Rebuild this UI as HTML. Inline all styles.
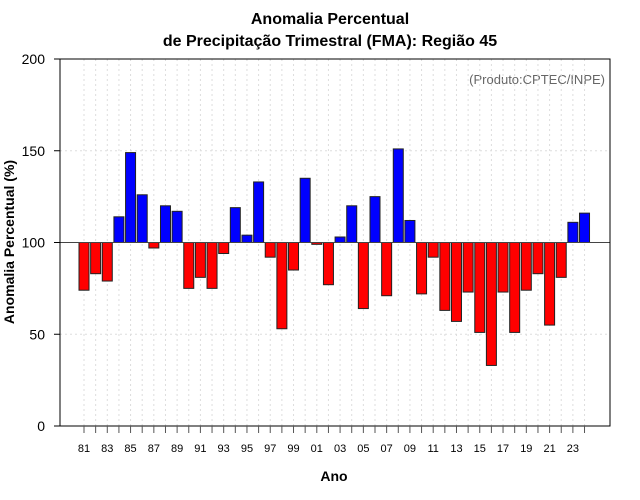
<!DOCTYPE html>
<html><head><meta charset="utf-8"><style>
body{margin:0;background:#fff;}
svg{display:block;font-family:"Liberation Sans",Arial,sans-serif;}
</style></head><body>
<svg id="chart" width="640" height="500" viewBox="0 0 640 500">
<rect width="640" height="500" fill="#fff"/>
<text x="330" y="24" text-anchor="middle" font-size="16" font-weight="bold">Anomalia Percentual</text>
<text x="330" y="46" text-anchor="middle" font-size="16" font-weight="bold">de Precipitação Trimestral (FMA): Região 45</text>
<text x="605" y="84" text-anchor="end" font-size="13" fill="#666">(Produto:CPTEC/INPE)</text>
<text x="334" y="481" text-anchor="middle" font-size="14" font-weight="bold">Ano</text>
<text transform="translate(14,242) rotate(-90)" text-anchor="middle" font-size="14" font-weight="bold">Anomalia Percentual (%)</text>
<g id="grid"></g><g id="bars"></g><g id="axes"></g>
</svg>
<script>
const years=[1981,1982,1983,1984,1985,1986,1987,1988,1989,1990,1991,1992,1993,1994,1995,1996,1997,1998,1999,2000,2001,2002,2003,2004,2005,2006,2007,2008,2009,2010,2011,2012,2013,2014,2015,2016,2017,2018,2019,2020,2021,2022,2023,2024];
const values=[74,83,79,114,149,126,97,120,117,75,81,75,94,119,104,133,92,53,85,135,99,77,103,120,64,125,71,151,112,72,92,63,57,73,51,33,73,51,74,83,55,81,111,116];
const yTicks=[0,50,100,150,200];
const NS='http://www.w3.org/2000/svg';
const L=60,R=610,T=59,B=426;
const x=yr=>84+(yr-1981)*11.64;
const y=v=>B-(v/200)*(B-T);
function mk(tag,attrs,parent){const e=document.createElementNS(NS,tag);for(const k in attrs)e.setAttribute(k,attrs[k]);parent.appendChild(e);return e;}
const grid=document.getElementById('grid'),bars=document.getElementById('bars'),axes=document.getElementById('axes');
years.forEach(yr=>{const g=mk('line',{x1:x(yr),x2:x(yr),y1:T,y2:B,stroke:'#ddd','stroke-dasharray':'2,3'},grid);

});
yTicks.forEach(v=>{if(v===0||v===200||v===100)return;const g=mk('line',{x1:L,x2:R,y1:y(v),y2:y(v),stroke:'#ddd','stroke-dasharray':'2,3'},grid);

});
values.forEach((v,i)=>{const yr=years[i];const top=Math.min(y(v),y(100)),h=Math.abs(y(v)-y(100));
const r=mk('rect',{x:x(yr)-5,y:top,width:10,height:Math.max(h,1),fill:v>=100?'#0000ff':'#ff0000',stroke:'#222','stroke-width':1},bars);

});
const base=mk('line',{x1:L,x2:R,y1:y(100),y2:y(100),stroke:'#444','stroke-width':1},axes);


const frame=mk('rect',{x:L,y:T,width:R-L,height:B-T,fill:'none',stroke:'#000','stroke-width':1},axes);


yTicks.forEach(v=>{const t=mk('line',{x1:L-6,x2:L,y1:y(v),y2:y(v),stroke:'#000'},axes);


const lb=mk('text',{x:L-15,y:y(v)+5,'text-anchor':'end','font-size':14},axes);lb.textContent=v;

});
years.forEach((yr,i)=>{const t=mk('line',{x1:x(yr),x2:x(yr),y1:B,y2:B+7,stroke:'#555'},axes);


if(i%2===0){const lb=mk('text',{x:x(yr),y:452,'text-anchor':'middle','font-size':11},axes);lb.textContent=String(yr).slice(2);

}});
</script>
</body></html>
